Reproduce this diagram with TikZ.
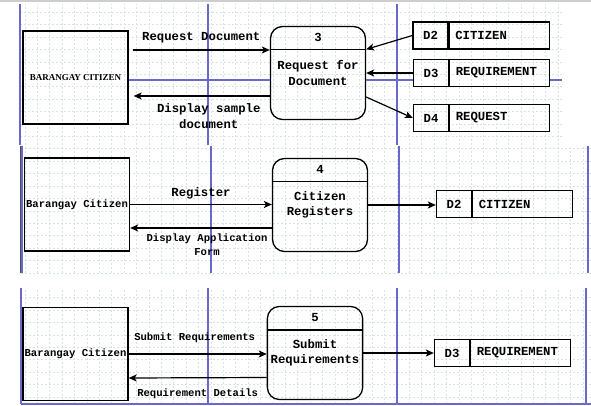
\documentclass[tikz,border=0pt]{standalone}
\usepackage{fontspec}
\newfontfamily\dfdmono{Liberation Mono}
\newfontfamily\dfdserif{Liberation Serif}
\usetikzlibrary{arrows.meta, positioning, calc}
\definecolor{pageblue}{RGB}{105,105,205}
\definecolor{gridgray}{RGB}{215,226,226}
\definecolor{edgegray}{RGB}{205,205,205}

\begin{document}
\begin{tikzpicture}[x=1pt, y=-1pt,
  entity/.style={draw, line width=1.3pt, minimum width=105pt, minimum height=93pt, inner sep=1pt, font=\dfdmono\bfseries\fontsize{10.6}{12}\selectfont},
  process/.style={draw, line width=1.3pt, rounded corners=12pt, minimum width=95pt, minimum height=93pt, align=center, font=\dfdmono\bfseries\fontsize{12.3}{15.5}\selectfont},
  procid/.style={inner sep=0pt, font=\dfdmono\bfseries\fontsize{12.3}{15}\selectfont},
  storeid/.style={draw, line width=1.3pt, minimum width=35pt, minimum height=27pt, inner sep=0pt, font=\dfdmono\bfseries\fontsize{12.3}{15}\selectfont},
  storename/.style={draw, line width=1.3pt, text width=88pt, inner xsep=6pt, inner ysep=0pt, minimum height=27pt, align=left, font=\dfdmono\bfseries\fontsize{12.3}{15}\selectfont},
  flow/.style={-{Stealth[length=8pt, width=7pt, inset=2pt]}, line width=1.2pt},
  flowlbl/.style={inner sep=1pt, align=center, font=\dfdmono\bfseries\fontsize{12.3}{16}\selectfont},
  flowsmall/.style={inner sep=1pt, align=center, font=\dfdmono\bfseries\fontsize{10.6}{14}\selectfont},
  pageline/.style={pageblue, line width=1.1pt},
  gridline/.style={gridgray, line width=0.6pt, dash pattern=on 2pt off 2pt}
]
\useasboundingbox (0,0) rectangle (591,406);

% Canvas background
\draw[edgegray, line width=2pt] (0,1) -- (591,1);
\draw[gridline, step=12.4pt] (20,4) grid (562,145);
\draw[gridline, step=12.4pt] (21,147) grid (591,273);
\draw[gridline, step=12.4pt] (21,289) grid (591,404);

\draw[pageline] (20,4) -- (20,145);
\draw[pageline] (208,4) -- (208,145);
\draw[pageline] (397,4) -- (397,145);
\draw[gray!60!black, line width=1.6pt] (20.5,146) -- (20.5,273);
\draw[pageline] (22,146) -- (22,273);
\draw[pageline] (211,146) -- (211,273);
\draw[pageline] (399,146) -- (399,273);
\draw[pageline] (588,146) -- (588,273);
\draw[pageline] (21,288) -- (21,404);
\draw[pageline] (208,288) -- (208,404);
\draw[pageline] (397,288) -- (397,404);
\draw[pageline] (586,288) -- (586,404);
\draw[pageline] (21,404) -- (591,404);

% Process 3
\node[entity, font=\dfdserif\bfseries\fontsize{9}{11}\selectfont] (ent3) at (75.5,77.5) {BARANGAY CITIZEN};
\node[process] (p3) at (318,73) {Request for\\Document};
\draw[line width=1.3pt] ([yshift=-23.5pt]p3.north west) -- ([yshift=-23.5pt]p3.north east);
\node[procid] (p3id) at ([yshift=-12pt]p3.north) {3};

\node[storeid] (s3d2) at (430.5,35.5) {D2};
\node[storename, right=0pt of s3d2] (s3d2n) {CITIZEN};
\node[storeid] (s3d3) at (431,73) {D3};
\node[storename, right=0pt of s3d3] (s3d3n) {REQUIREMENT};
\node[storeid] (s3d4) at (431,118) {D4};
\node[storename, right=0pt of s3d4] (s3d4n) {REQUEST};

\draw[pageline] (ent3.east |- 0,80) -- (p3.west |- 0,80);
\draw[pageline] (p3.east |- 0,80) -- (s3d3.west |- 0,80);
\draw[pageline] (s3d3n.east |- 0,80) -- (562,80);

\draw[flow] ([xshift=4pt,yshift=27.5pt]ent3.east) -- node[flowlbl, above=5pt] {Request Document} ([yshift=23pt]p3.west);
\draw[flow] ([yshift=-23pt]p3.west) -- node[flowlbl, below=6pt, xshift=7pt] {Display sample\\document} ([xshift=5pt,yshift=-18.5pt]ent3.east);
\draw[flow] (s3d2.west) -- ([yshift=-23.5pt]p3.north east);
\draw[flow] (s3d3.west) -- (p3.east);
\draw[flow] ([yshift=-24pt]p3.east) -- (s3d4.west);

% Process 4
\node[entity] (ent4) at (77,204.5) {Barangay Citizen};
\node[process] (p4) at (320,205) {Citizen\\Registers};
\draw[line width=1.3pt] ([yshift=-24pt]p4.north west) -- ([yshift=-24pt]p4.north east);
\node[procid] (p4id) at ([yshift=-12pt]p4.north) {4};

\node[storeid] (s4d2) at (454,204) {D2};
\node[storename, right=0pt of s4d2] (s4d2n) {CITIZEN};

\draw[flow] (ent4.east) -- node[flowlbl, above=4pt] {Register} (ent4.east -| p4.west);
\draw[flow] ([yshift=-23pt]p4.west) -- node[flowsmall, below=4pt, xshift=6pt] {Display Application\\Form} ([yshift=-23.5pt]ent4.east);
\draw[flow] (p4.east) -- (p4.east -| s4d2.west);

% Process 5
\node[entity] (ent5) at (75.5,354) {Barangay Citizen};
\node[process] (p5) at (315,353) {Submit\\Requirements};
\draw[line width=1.3pt] ([yshift=-24pt]p5.north west) -- ([yshift=-24pt]p5.north east);
\node[procid] (p5id) at ([yshift=-12pt]p5.north) {5};

\node[storeid] (s5d3) at (452,353) {D3};
\node[storename, right=0pt of s5d3] (s5d3n) {REQUIREMENT};

\draw[flow] (ent5.east) -- node[flowsmall, above=10pt, xshift=-3pt] {Submit Requirements} (ent5.east -| p5.west);
\draw[flow] ([yshift=-24.5pt]p5.west) -- node[flowsmall, below=9pt] {Requirement Details} ([yshift=-24pt]ent5.east);
\draw[flow] (p5.east) -- (s5d3.west);

\end{tikzpicture}
\end{document}
